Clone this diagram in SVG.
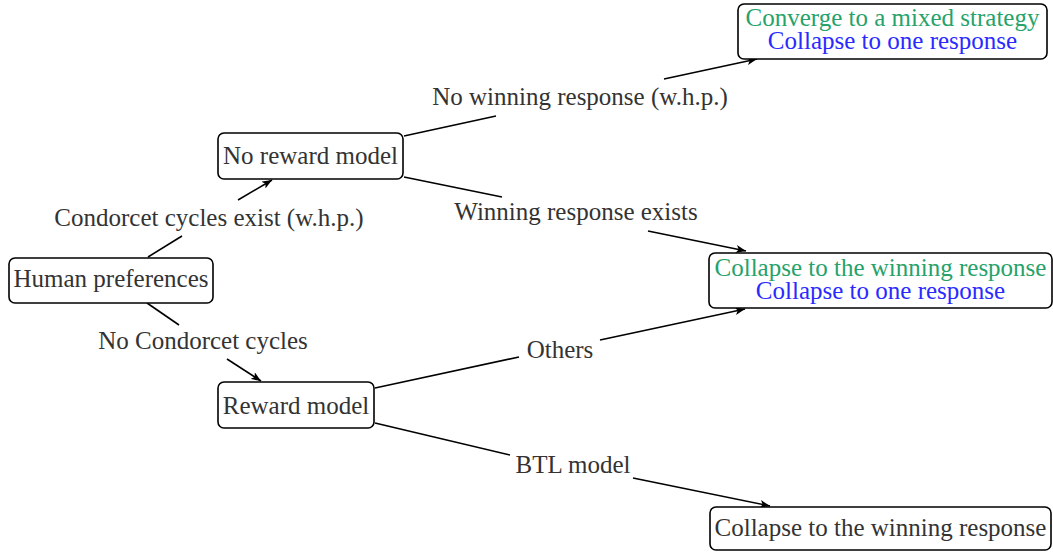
<svg xmlns="http://www.w3.org/2000/svg" width="1053" height="552" viewBox="0 0 1053 552">
<defs>
<style>
.box{fill:#fff;stroke:#000;stroke-width:1.6}
.t{font-family:"Liberation Serif","Times New Roman",serif;font-size:25px;fill:#333;text-anchor:middle}
.g{fill:#26a26a}
.b{fill:#2a2aff}
.c{fill:none;stroke:#000;stroke-width:1.6}
</style>
<marker id="ah" viewBox="0 0 10 8" refX="10" refY="4" markerWidth="10" markerHeight="8" markerUnits="userSpaceOnUse" orient="auto">
<path d="M0,0 L10,4 L0,8 L2.5,4 Z" fill="#000"/>
</marker>
</defs>
<g id="connectors">
<line class="c" x1="148" y1="257" x2="182" y2="236"/>
<line class="c" x1="238" y1="200" x2="272" y2="180" marker-end="url(#ah)"/>
<line class="c" x1="147" y1="303" x2="179" y2="325"/>
<line class="c" x1="227" y1="359" x2="261" y2="381" marker-end="url(#ah)"/>
<line class="c" x1="404" y1="136" x2="496" y2="116"/>
<line class="c" x1="664" y1="79" x2="757" y2="59" marker-end="url(#ah)"/>
<line class="c" x1="404" y1="177" x2="502" y2="197"/>
<line class="c" x1="648" y1="231" x2="746" y2="251" marker-end="url(#ah)"/>
<line class="c" x1="375" y1="388" x2="519" y2="357"/>
<line class="c" x1="600" y1="340" x2="745" y2="309" marker-end="url(#ah)"/>
<line class="c" x1="375" y1="423" x2="510" y2="455"/>
<line class="c" x1="633" y1="478" x2="770" y2="506" marker-end="url(#ah)"/>
</g>
<g id="labels">
<text class="t" x="209" y="226">Condorcet cycles exist (w.h.p.)</text>
<text class="t" x="203" y="349">No Condorcet cycles</text>
<text class="t" x="580" y="105">No winning response (w.h.p.)</text>
<text class="t" x="576" y="220">Winning response exists</text>
<text class="t" x="560" y="358">Others</text>
<text class="t" x="573" y="473">BTL model</text>
</g>
<g id="human">
<rect class="box" x="9" y="258" width="204" height="45" rx="6"/>
<text class="t" x="111" y="287">Human preferences</text>
</g>
<g id="noreward">
<rect class="box" x="218" y="133" width="185" height="46" rx="6"/>
<text class="t" x="310.5" y="164">No reward model</text>
</g>
<g id="reward">
<rect class="box" x="218" y="382" width="156" height="46" rx="6"/>
<text class="t" x="296" y="414">Reward model</text>
</g>
<g id="mixed">
<rect class="box" x="738" y="4" width="309" height="55" rx="6"/>
<text class="t g" x="892.5" y="26">Converge to a mixed strategy</text>
<text class="t b" x="892.5" y="49">Collapse to one response</text>
</g>
<g id="winmid">
<rect class="box" x="709" y="253" width="343" height="55" rx="6"/>
<text class="t g" x="880.5" y="276">Collapse to the winning response</text>
<text class="t b" x="880.5" y="299">Collapse to one response</text>
</g>
<g id="winbot">
<rect class="box" x="710" y="507" width="341" height="43" rx="6"/>
<text class="t" x="880.5" y="536">Collapse to the winning response</text>
</g>
</svg>
